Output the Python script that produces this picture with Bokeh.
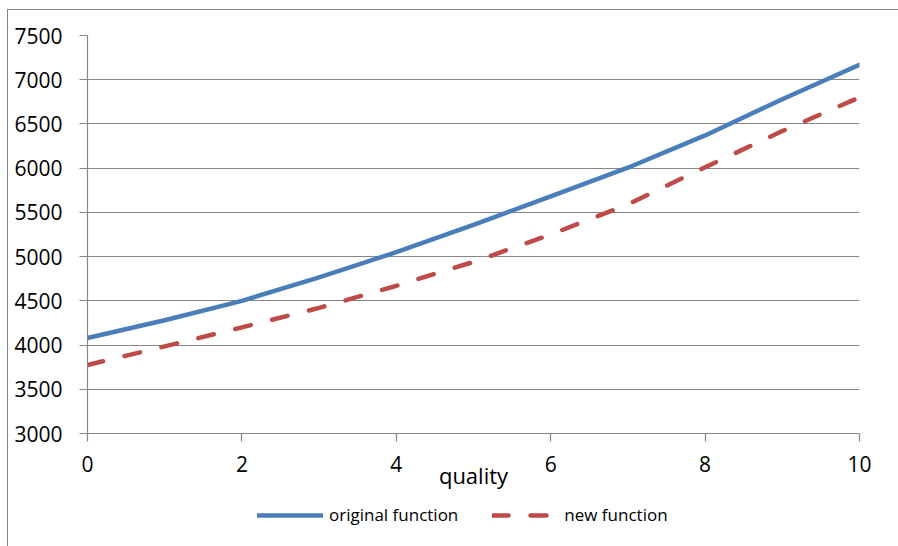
from bokeh.plotting import figure
from bokeh.layouts import column
from bokeh.models import Range1d, FixedTicker, Legend, LegendItem, ColumnDataSource
from bokeh.embed import file_html
from bokeh.resources import INLINE

# ---- data ----
quality = [0, 1, 2, 3, 4, 5, 6, 7, 8, 9, 10]
original_function = [4080, 4280, 4500, 4765, 5050, 5360, 5680, 6005, 6370, 6780, 7170]
new_function = [3775, 3985, 4200, 4420, 4670, 4940, 5250, 5590, 6010, 6420, 6800]
y_ticks = [3000, 3500, 4000, 4500, 5000, 5500, 6000, 6500, 7000, 7500]
x_ticks = [0, 2, 4, 6, 8, 10]
x_label = "quality"
series_names = ["original function", "new function"]

FONT = "Open Sans"
GRID = "#868686"
BLUE = "#4A7EBB"
RED = "#BE4B48"
BLUE_STYLE = dict(line_color=BLUE, line_width=4.5, line_cap="round", line_join="round")
RED_STYLE = dict(line_color=RED, line_width=4.5, line_cap="round", line_dash="16 22")

p = figure(width=890, height=494, output_backend="svg", toolbar_location=None,
           x_range=Range1d(0, 10), y_range=Range1d(3000, 7500),
           min_border_left=79, min_border_top=25, min_border_right=39, min_border_bottom=71)
p.outline_line_color = None
p.background_fill_color = "white"
p.border_fill_color = "white"

p.xgrid.grid_line_color = None
p.ygrid.grid_line_color = GRID
p.ygrid.grid_line_width = 1.2
p.ygrid.ticker = FixedTicker(ticks=y_ticks)

for ax in (p.xaxis[0], p.yaxis[0]):
    ax.axis_line_color = GRID
    ax.axis_line_width = 1.2
    ax.major_tick_line_color = GRID
    ax.major_tick_line_width = 1.2
    ax.major_tick_in = 0
    ax.major_tick_out = 8
    ax.minor_tick_line_color = None
    ax.major_label_text_font = FONT
    ax.major_label_text_font_size = "21px"
    ax.major_label_text_color = "#000000"

p.xaxis[0].ticker = FixedTicker(ticks=x_ticks)
p.yaxis[0].ticker = FixedTicker(ticks=y_ticks)
p.yaxis[0].major_label_standoff = 17
p.xaxis[0].major_label_standoff = 14
p.xaxis[0].axis_label = x_label
p.xaxis[0].axis_label_text_font = FONT
p.xaxis[0].axis_label_text_font_size = "22px"
p.xaxis[0].axis_label_text_font_style = "normal"
p.xaxis[0].axis_label_text_color = "#000000"
p.xaxis[0].axis_label_standoff = -15

src = ColumnDataSource(dict(x=quality, a=original_function, b=new_function))
p.line("x", "a", source=src, **BLUE_STYLE)
p.line("x", "b", source=src, **RED_STYLE)

# legend strip below the chart (its frame is aligned with the main chart's frame)
lg = figure(width=890, height=42, output_backend="svg", toolbar_location=None,
            x_range=Range1d(0, 10), y_range=Range1d(0, 1),
            min_border=0, x_axis_type=None, y_axis_type=None)
lg.outline_line_color = None
lg.xgrid.grid_line_color = None
lg.ygrid.grid_line_color = None
# off-range placeholder lines, only used to draw the legend swatches
la = lg.line(x=[-5, -4], y=[-5, -5], **BLUE_STYLE)
lb = lg.line(x=[-5, -4], y=[-5, -5], **RED_STYLE)
legend = Legend(items=[LegendItem(label=series_names[0], renderers=[la]),
                       LegendItem(label=series_names[1], renderers=[lb])],
                location=(170, 20), orientation="horizontal",
                glyph_width=66, glyph_height=20, label_height=20, label_standoff=6,
                spacing=34, padding=0, margin=0, border_line_color=None,
                background_fill_alpha=0,
                label_text_font=FONT, label_text_font_size="17px", label_text_color="#000000")
lg.add_layout(legend)

layout = column(p, lg, spacing=0)
layout.styles = {"border-left": "1px solid #868686", "border-top": "1px solid #868686",
                 "margin-left": "7px", "margin-top": "9px"}

open("out.html", "w").write(file_html(layout, INLINE))
